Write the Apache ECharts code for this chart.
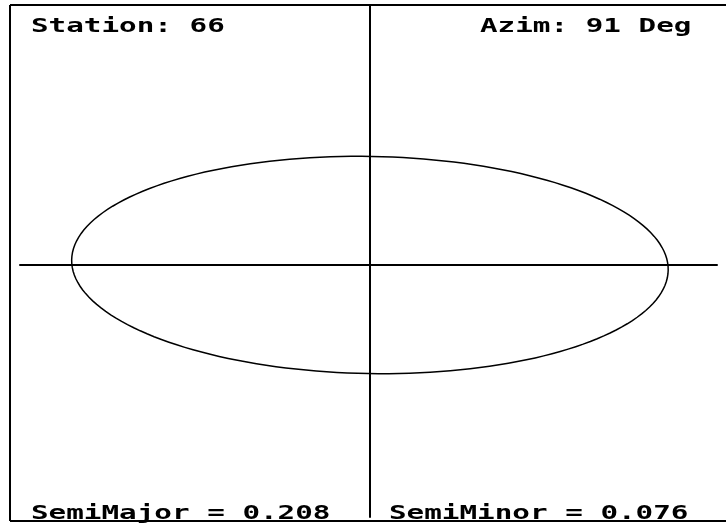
<!DOCTYPE html>
<html>
<head>
<meta charset="utf-8">
<script src="https://cdn.jsdelivr.net/npm/echarts@6/dist/echarts.min.js"></script>
<style>
  html, body { margin: 0; padding: 0; background: #fff; }
  #main { width: 726px; height: 529px; }
</style>
</head>
<body>
<div id="main"></div>
<script>
// error ellipse parameters
const station = 66
const azimuthDeg = 91
const semiMajor = 0.208
const semiMinor = 0.076
const center = [[0, 0]]

// axis extent (same units as the semi axes)
const xRange = [-0.244, 0.242]
const yRange = [-0.1764, 0.182]

const chart = echarts.init(document.getElementById('main'))

// pixel-ish bold mono labels, stretched wide like the old screen font
const labelFont = 'bold 19px "DejaVu Sans Mono", monospace'
function label(text, x, y) {
  return {
    type: 'text',
    x: x, y: y,
    scaleX: 1.54,
    style: { text: text, font: labelFont, fill: '#000', align: 'left', verticalAlign: 'middle' }
  }
}

const option = {
  backgroundColor: '#fff',
  animation: false,
  grid: { left: 20, right: 9, top: 5, bottom: 12 },
  xAxis: {
    type: 'value', min: xRange[0], max: xRange[1],
    axisLine: { onZero: true, lineStyle: { color: '#000', width: 2 } },
    axisTick: { show: false }, axisLabel: { show: false }, splitLine: { show: false }
  },
  yAxis: {
    type: 'value', min: yRange[0], max: yRange[1],
    axisLine: { onZero: true, lineStyle: { color: '#000', width: 2 } },
    axisTick: { show: false }, axisLabel: { show: false }, splitLine: { show: false }
  },
  series: [{
    type: 'custom',
    data: center,
    renderItem: function (params, api) {
      const cx = api.value(0), cy = api.value(1)
      const az = azimuthDeg * Math.PI / 180
      // major axis direction in (east, north)
      const ue = Math.sin(az), un = Math.cos(az)
      const ve = -un, vn = ue
      const pts = []
      for (let i = 0; i <= 180; i++) {
        const t = i / 180 * Math.PI * 2
        const ca = semiMajor * Math.cos(t), sb = semiMinor * Math.sin(t)
        pts.push(api.coord([cx + ca * ue + sb * ve, cy + ca * un + sb * vn]))
      }
      return {
        type: 'polyline',
        shape: { points: pts },
        style: { stroke: '#000', lineWidth: 1.5, fill: null }
      }
    }
  }],
  graphic: [
    { type: 'line', shape: { x1: 10, y1: 5, x2: 726, y2: 5 }, style: { stroke: '#000', lineWidth: 2 } },
    { type: 'line', shape: { x1: 10, y1: 5, x2: 10, y2: 521 }, style: { stroke: '#000', lineWidth: 2 } },
    { type: 'line', shape: { x1: 10, y1: 521, x2: 726, y2: 521 }, style: { stroke: '#000', lineWidth: 2 } },
    label('Station: ' + station, 31, 27.5),
    label('Azim: ' + azimuthDeg + ' Deg', 480, 27.5),
    label('SemiMajor = ' + semiMajor.toFixed(3), 31, 514),
    label('SemiMinor = ' + semiMinor.toFixed(3), 389, 514)
  ]
}

chart.setOption(option)
</script>
</body>
</html>
